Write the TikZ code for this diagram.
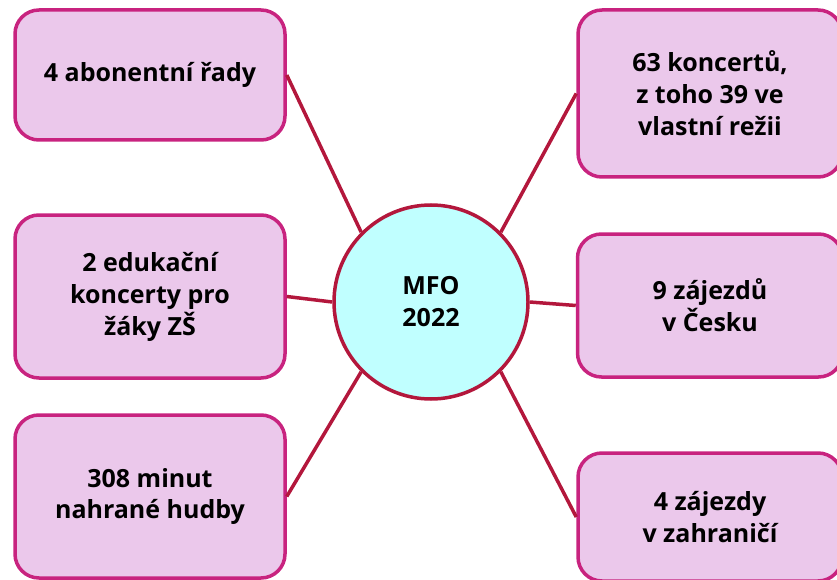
\documentclass[tikz,border=0pt]{standalone}
\usepackage{fontspec}
\setmainfont{Open Sans}
\definecolor{boxfill}{HTML}{EBC8EB}
\definecolor{boxline}{HTML}{C8237F}
\definecolor{circfill}{HTML}{C0FFFF}
\definecolor{circline}{HTML}{B3173C}
\tikzset{
  infobox/.style={draw=boxline, fill=boxfill, line width=3.5pt, rounded corners=24pt,
    inner sep=0pt, align=center, font=\bfseries\fontsize{25}{32}\selectfont},
  hub/.style={circle, draw=circline, fill=circfill, line width=3.5pt, inner sep=0pt,
    minimum size=194pt, align=center, font=\bfseries\fontsize{25}{32}\selectfont},
  link/.style={draw=circline, line width=3.5pt}
}
\begin{document}
\begin{tikzpicture}[x=1pt,y=-1pt]
\useasboundingbox (0,0) rectangle (837,580);
\node[hub] (c) at (431,302) {MFO\\2022};
\node[infobox, minimum width=270pt, minimum height=130pt] (l1) at (150,75) {4 abonentní řady};
\node[infobox, minimum width=270pt, minimum height=163pt] (l2) at (150,296.5) {2 edukační\\koncerty pro\\žáky ZŠ};
\node[infobox, minimum width=270pt, minimum height=163pt] (l3) at (150,496.5) {308 minut\\nahrané hudby};
\node[infobox, minimum width=264pt, minimum height=167pt] (r1) at (710,93.5) {63 koncertů,\\z toho 39 ve\\vlastní režii};
\node[infobox, minimum width=265pt, minimum height=143pt] (r2) at (710,305.5) {9 zájezdů\\v Česku};
\node[infobox, minimum width=264pt, minimum height=128pt] (r3) at (710,517) {4 zájezdy\\v zahraničí};
\draw[link] (l1.east) -- (c.135);
\draw[link] (l2.east) -- (c.180);
\draw[link] (l3.east) -- (c.225);
\draw[link] (r1.west) -- (c.45);
\draw[link] (r2.west) -- (c.0);
\draw[link] (r3.west) -- (c.-45);
\end{tikzpicture}
\end{document}
